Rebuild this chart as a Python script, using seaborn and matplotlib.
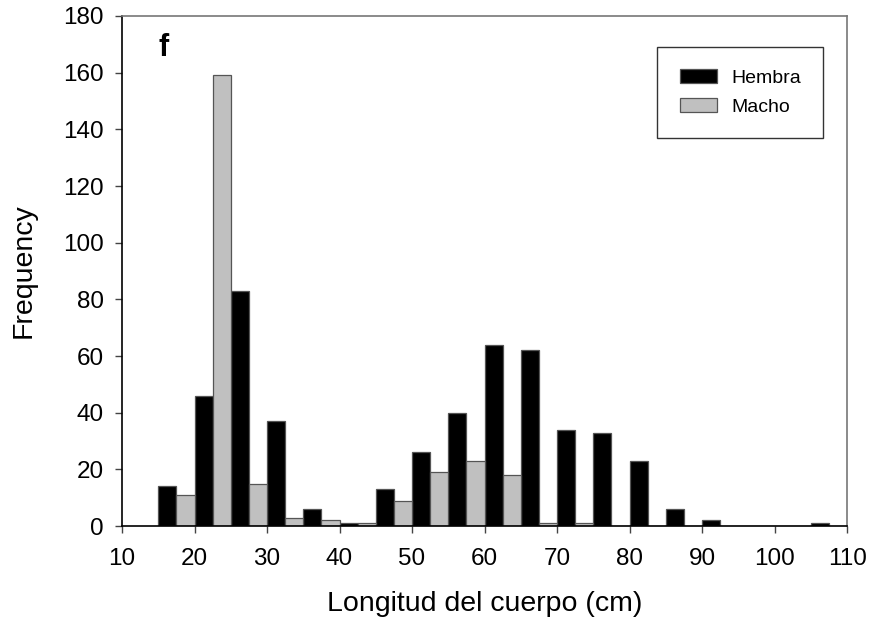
import matplotlib
matplotlib.use("Agg")
import matplotlib.pyplot as plt
import seaborn as sns
import pandas as pd
from matplotlib.patches import Patch

bin_centers = [17.5, 22.5, 27.5, 32.5, 37.5, 42.5, 47.5, 52.5, 57.5, 62.5,
               67.5, 72.5, 77.5, 82.5, 87.5, 92.5, 97.5, 102.5, 107.5]
hembra = [14, 46, 83, 37, 6, 1, 13, 26, 40, 64, 62, 34, 33, 23, 6, 2, 0, 0, 1]
macho = [11, 159, 15, 3, 2, 1, 9, 19, 23, 18, 1, 1, 0, 0, 0, 0, 0, 0, 0]
series_names = ["Hembra", "Macho"]
x_ticks = list(range(10, 111, 10))
y_ticks = list(range(0, 181, 20))

df = pd.DataFrame({
    "Longitud": bin_centers * 2,
    "Frequency": hembra + macho,
    "Sexo": [series_names[0]] * len(bin_centers) + [series_names[1]] * len(bin_centers),
})

sns.set_style("white")
plt.rcParams["font.family"] = ["Liberation Sans", "DejaVu Sans"]
plt.rcParams["text.color"] = "black"
plt.rcParams["axes.labelcolor"] = "black"
plt.rcParams["xtick.color"] = "black"
plt.rcParams["ytick.color"] = "black"

fig = plt.figure(figsize=(8.76, 6.27), dpi=100)
ax = fig.add_axes([0.1393, 0.161, 0.8277, 0.8135])

colors = {"Hembra": "#000000", "Macho": "#c0c0c0"}
sns.barplot(data=df, x="Longitud", y="Frequency", hue="Sexo", hue_order=series_names,
            palette=colors, native_scale=True, width=1.0, dodge=True,
            edgecolor="#555555", linewidth=0.9, errorbar=None, saturation=1,
            legend=False, ax=ax)

ax.set_xlim(10, 110)
ax.set_ylim(0, 180)
ax.set_xticks(x_ticks)
ax.set_yticks(y_ticks)
ax.tick_params(axis="both", labelsize=17.5, direction="out", length=5, width=1,
               color="#444444", labelcolor="black", bottom=True, left=True)
ax.tick_params(axis="y", pad=8)
ax.tick_params(axis="x", pad=11)
ax.set_xlabel("Longitud del cuerpo (cm)", fontsize=20.5, labelpad=15)
ax.set_ylabel("Frequency", fontsize=20.5, labelpad=19)

for side in ["left", "bottom"]:
    ax.spines[side].set_color("#000000")
    ax.spines[side].set_linewidth(1.2)
for side in ["top", "right"]:
    ax.spines[side].set_color("#777777")
    ax.spines[side].set_linewidth(1.2)

ax.text(0.058, 0.937, "f", transform=ax.transAxes, fontsize=22, fontweight="bold",
        ha="center", va="center")

handles = [Patch(facecolor=colors[n], edgecolor="#555555", linewidth=0.9) for n in series_names]
leg = ax.legend(handles, series_names, loc="upper right", bbox_to_anchor=(0.967, 0.939),
                fontsize=14, frameon=True, fancybox=False, edgecolor="#000000",
                handlelength=1.95, handleheight=0.72, handletextpad=0.7,
                borderpad=1.15, labelspacing=0.55, borderaxespad=0)
leg.get_frame().set_linewidth(1.0)

fig.savefig("out.png", dpi=100)
